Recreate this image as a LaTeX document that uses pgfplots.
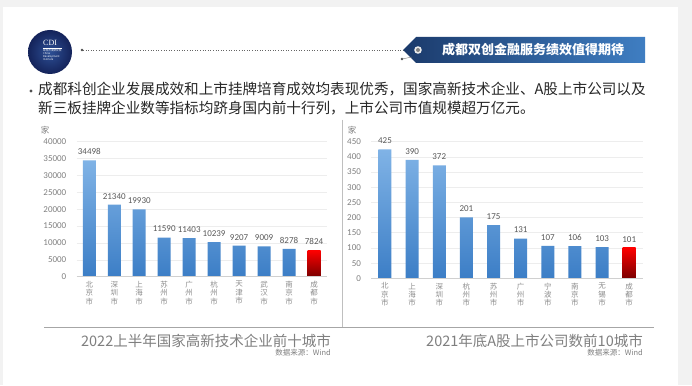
\documentclass[border=0pt]{standalone}
\usepackage{fontspec}
\setmainfont{Noto Sans CJK SC}
\newfontfamily\numfont{Carlito}
\newfontfamily\seriffont{Liberation Serif}
\usepackage{pgfplots}
\pgfplotsset{compat=1.18}
\definecolor{bgc}{HTML}{F2F2F2}
\definecolor{gridc}{HTML}{EDEDED}
\definecolor{axc}{HTML}{D0D0D0}
\definecolor{tickc}{HTML}{808080}
\definecolor{valc}{HTML}{595959}
\definecolor{catc}{HTML}{8C8C8C}
\definecolor{capc}{HTML}{7F7F7F}
\definecolor{txtc}{HTML}{262626}
\definecolor{barTop}{HTML}{80B3E6}
\definecolor{barBot}{HTML}{3C7EC6}
\definecolor{redTop}{HTML}{FF0000}
\definecolor{redBot}{HTML}{7A0000}
\definecolor{banL}{HTML}{1B3A6B}
\definecolor{banR}{HTML}{3F7EC2}
\definecolor{logoIn}{HTML}{2D4F95}
\definecolor{logoOut}{HTML}{14235A}
\pgfplotsset{
  chartstyle/.style={
    scale only axis, enlargelimits=false, clip=false,
    xmin=-0.5, xmax=9.5, ymin=0, xtick={0,...,9},
    ymajorgrids, major grid style={gridc, line width=0.6pt},
    axis line style={draw=none}, major tick length=0pt,
    ybar, bar width=13pt, bar shift=0pt,
    scaled y ticks=false,
    /pgf/number format/1000 sep={}, /pgf/number format/assume math mode=true,
    yticklabel style={font=\numfont\fontsize{9}{9}\selectfont, text=tickc, xshift=-7pt},
    xticklabel style={font=\fontsize{7.5}{8.4}\selectfont, text=catc, align=center, yshift=-1pt},
    nodes near coords, nodes near coords style={font=\numfont\fontsize{9}{9}\selectfont, text=valc, yshift=2pt},
  }
}
\begin{document}
\begin{tikzpicture}
\begin{scope}[x=1pt,y=1pt]
% background
\fill[bgc] (0,0) rectangle (692,385);
\fill[white] (3,0) rectangle (678,378);
% logo
\shade[inner color=logoIn, outer color=logoOut] (50,333) circle (22pt);
\node[text=white, font=\seriffont\fontsize{8}{8}\selectfont, anchor=west, inner sep=0] at (43,342) {CDI};
\draw[white, line width=0.3pt] (43,337) -- (62,337);
\node[text=white, font=\fontsize{2.6}{2.9}\selectfont, anchor=north west, align=left, inner sep=0] at (43,335.5) {综合开发研究院\\China\\Development\\Institute};
% dotted line
\fill[black!70] (82,335) circle (1.4pt);
\draw[black!60, dotted, line width=0.6pt] (83,335) -- (405,335);
% banner
\shade[left color=banL, right color=banR] (403,335) -- (416,348) -- (645,348) -- (645,322) -- (416,322) -- cycle;
\fill[white!85!gray] (418,335) circle (3.8pt);
\fill[gray] (418,335) circle (2pt);
\node[text=white, font=\bfseries\fontsize{13}{13}\selectfont] at (533,335) {成都双创金融服务绩效值得期待};
\fill[black!70] (402,326) circle (1.4pt);
\draw[black!50, line width=0.4pt] (402,326) -- (412,328);
% bullet text
\fill[txtc!80] (31,294) circle (1.7pt);
\node[text=txtc, font=\fontsize{14.6}{14.6}\selectfont, anchor=west, inner sep=0] at (38,296) {成都科创企业发展成效和上市挂牌培育成效均表现优秀，国家高新技术企业、A股上市公司以及};
\node[text=txtc, font=\fontsize{14.6}{14.6}\selectfont, anchor=west, inner sep=0] at (38,277) {新三板挂牌企业数等指标均跻身国内前十行列，上市公司市值规模超万亿元。};
% separators
\draw[black!25, line width=0.6pt] (342.5,265) -- (342.5,58);
\draw[black!35, line width=0.6pt] (44,58) -- (654,58);
% unit labels
\node[text=tickc, font=\fontsize{8.5}{8.5}\selectfont] at (45,255) {家};
\node[text=tickc, font=\fontsize{8.5}{8.5}\selectfont] at (352,255) {家};
\end{scope}
% left chart
\begin{axis}[chartstyle,
  at={(76.8pt,108.3pt)}, anchor=south west, width=249.7pt, height=135pt,
  ymax=40000, ytick={0,5000,...,40000},
  xticklabels={{北\\京\\市},{深\\圳\\市},{上\\海\\市},{苏\\州\\市},{广\\州\\市},{杭\\州\\市},{天\\津\\市},{武\\汉\\市},{南\\京\\市},{成\\都\\市}},
]
\addplot[draw=none, top color=barTop, bottom color=barBot] coordinates {(0,34498) (1,21340) (2,19930) (3,11590) (4,11403) (5,10239) (6,9207) (7,9009) (8,8278)};
\addplot[draw=none, top color=redTop, bottom color=redBot] coordinates {(9,7824)};
\draw[axc, line width=0.7pt] (axis cs:-0.5,0) -- (axis cs:9.5,0);
\end{axis}
% right chart
\begin{axis}[chartstyle,
  at={(371.4pt,106.7pt)}, anchor=south west, width=271.4pt, height=136.6pt,
  ymax=450, ytick={0,50,...,450},
  xticklabels={{北\\京\\市},{上\\海\\市},{深\\圳\\市},{杭\\州\\市},{苏\\州\\市},{广\\州\\市},{宁\\波\\市},{南\\京\\市},{无\\锡\\市},{成\\都\\市}},
]
\addplot[draw=none, top color=barTop, bottom color=barBot] coordinates {(0,425) (1,390) (2,372) (3,201) (4,175) (5,131) (6,107) (7,106) (8,103)};
\addplot[draw=none, top color=redTop, bottom color=redBot] coordinates {(9,101)};
\draw[axc, line width=0.7pt] (axis cs:-0.5,0) -- (axis cs:9.5,0);
\end{axis}
\begin{scope}[x=1pt,y=1pt]
% captions
\node[text=capc, font=\fontsize{14.5}{14.5}\selectfont, anchor=east, inner sep=0] at (331,44) {2022上半年国家高新技术企业前十城市};
\node[text=capc, font=\fontsize{7.5}{7.5}\selectfont, anchor=east, inner sep=0] at (331,32) {数据来源：Wind};
\node[text=capc, font=\fontsize{14.5}{14.5}\selectfont, anchor=east, inner sep=0] at (643,44) {2021年底A股上市公司数前10城市};
\node[text=capc, font=\fontsize{7.5}{7.5}\selectfont, anchor=east, inner sep=0] at (643,32) {数据来源：Wind};
\pgfresetboundingbox
\useasboundingbox (0,0) rectangle (692,385);
\end{scope}
\end{tikzpicture}
\end{document}
